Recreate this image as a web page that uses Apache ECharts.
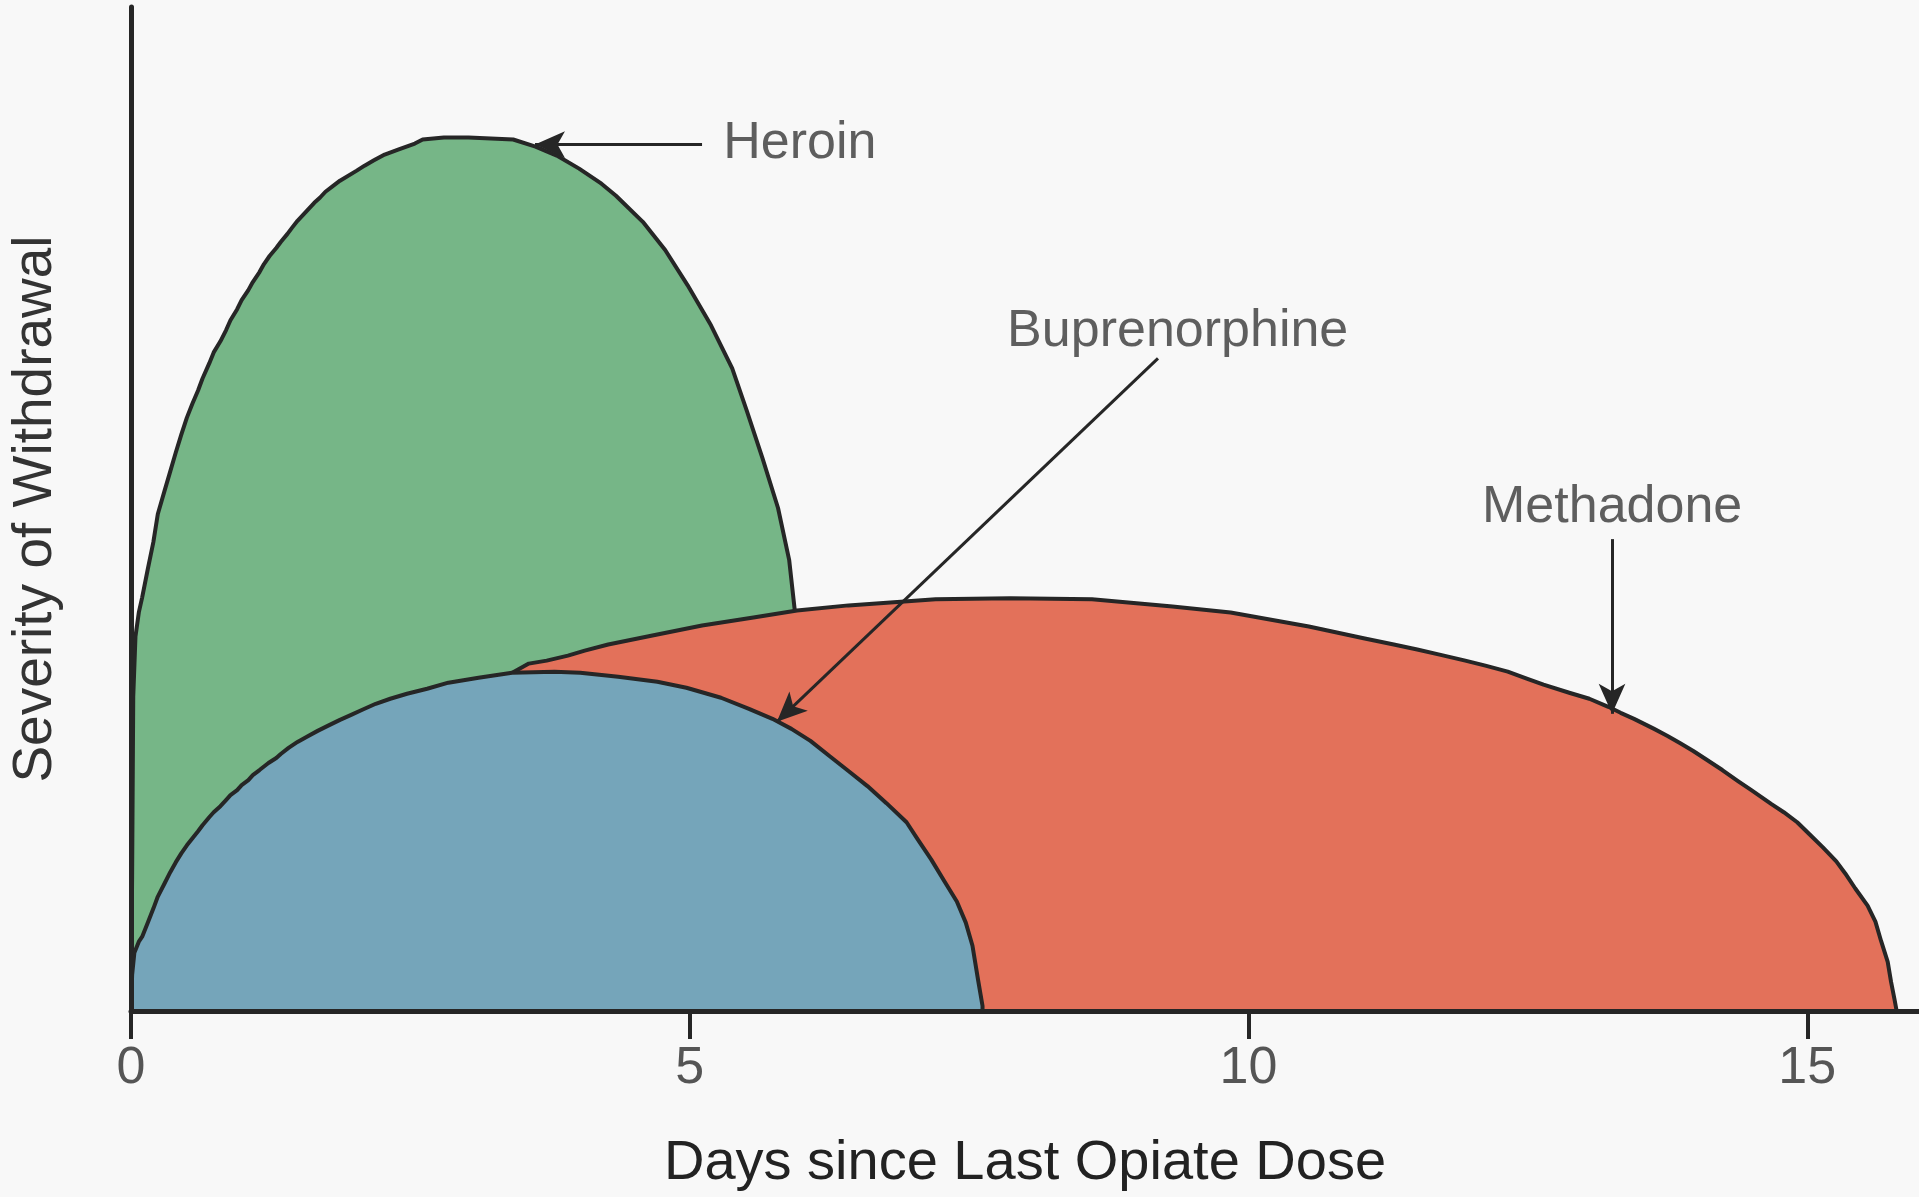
<!DOCTYPE html>
<html>
<head>
<meta charset="utf-8">
<script src="https://cdn.jsdelivr.net/npm/echarts@6/dist/echarts.min.js"></script>
<style>
html,body{margin:0;padding:0;background:#f8f8f8;}
#chart{width:1919px;height:1197px;}
</style>
</head>
<body>
<div id="chart"></div>
<script>
// ---- data (days since last dose, severity 0-100) ----
var xTicks = [0, 5, 10, 15];

var heroin = [
  [0,0],[0.01,13.5],[0.02,31.3],[0.04,37.3],[0.07,39.7],[0.10,41.2],[0.15,44.0],[0.20,46.7],
  [0.24,49.5],[0.30,51.8],[0.35,53.7],[0.40,55.6],[0.45,57.4],[0.50,59.1],[0.55,60.5],[0.60,61.8],
  [0.64,63.0],[0.70,64.5],[0.74,65.6],[0.80,66.7],[0.85,67.8],[0.89,68.8],[0.95,69.9],[0.99,70.8],
  [1.05,71.8],[1.09,72.6],[1.15,73.6],[1.19,74.4],[1.24,75.2],[1.30,76.0],[1.34,76.6],[1.40,77.4],
  [1.44,78.0],[1.49,78.7],[1.54,79.3],[1.59,79.9],[1.64,80.5],[1.69,81.0],[1.74,81.6],[1.80,82.1],
  [1.87,82.7],[2.02,83.7],[2.09,84.2],[2.17,84.7],[2.27,85.3],[2.39,85.8],[2.54,86.4],[2.61,86.8],
  [2.80,87.0],[3.02,87.0],[3.42,86.8],[3.62,86.1],[3.81,85.2],[4.01,83.9],[4.21,82.4],[4.34,81.2],
  [4.58,78.6],[4.78,75.8],[4.98,72.3],[5.19,68.3],[5.38,64.0],[5.51,59.8],[5.65,55.1],[5.79,50.1],
  [5.89,44.9],[5.94,39.9],[5.96,0]
];

var methadone = [
  [0,0],[0.17,7.5],[0.44,13.5],[0.89,19.5],[1.51,24.4],[2.23,28.4],[2.86,31.4],[3.30,33.0],
  [3.56,34.6],[3.72,34.9],[3.91,35.4],[4.06,35.9],[4.27,36.5],[4.71,37.5],[5.11,38.4],[5.57,39.2],
  [5.96,39.9],[6.42,40.4],[7.20,41.0],[7.87,41.1],[8.60,41.0],[9.32,40.3],[9.84,39.7],[10.19,39.0],
  [10.54,38.3],[10.79,37.7],[11.04,37.1],[11.30,36.5],[11.51,36.0],[11.71,35.5],[11.94,34.9],
  [12.12,34.4],[12.32,33.8],[12.49,33.1],[12.64,32.5],[12.87,31.7],[13.05,31.1],[13.22,30.3],
  [13.33,29.7],[13.45,29.1],[13.63,28.1],[13.75,27.4],[13.86,26.7],[13.98,25.9],[14.09,25.1],
  [14.24,24.0],[14.38,22.9],[14.50,22.0],[14.68,20.6],[14.79,19.8],[14.91,18.8],[15.02,17.6],
  [15.14,16.3],[15.26,14.9],[15.34,13.7],[15.43,12.2],[15.54,10.5],[15.61,8.9],[15.66,7.0],
  [15.72,4.9],[15.75,2.9],[15.78,1.2],[15.80,0]
];

var buprenorphine = [
  [0,0],[0.01,3.6],[0.03,5.8],[0.07,6.9],[0.10,7.4],[0.15,8.8],[0.20,10.2],[0.24,11.4],
  [0.30,12.7],[0.35,13.8],[0.40,14.8],[0.45,15.7],[0.50,16.5],[0.55,17.2],[0.60,17.9],[0.64,18.5],
  [0.70,19.3],[0.74,19.8],[0.80,20.4],[0.85,21.0],[0.89,21.5],[0.95,22.0],[0.99,22.5],[1.05,23.0],
  [1.09,23.5],[1.15,24.0],[1.23,24.7],[1.30,25.2],[1.34,25.6],[1.41,26.2],[1.49,26.8],[1.57,27.3],
  [1.67,27.9],[1.76,28.4],[1.87,29.0],[1.97,29.5],[2.07,30.0],[2.19,30.6],[2.32,31.1],[2.47,31.6],
  [2.65,32.1],[2.84,32.7],[3.11,33.2],[3.41,33.7],[3.79,33.8],[4.02,33.7],[4.36,33.3],[4.71,32.8],
  [4.97,32.2],[5.28,31.2],[5.53,30.1],[5.74,29.1],[5.91,28.1],[6.08,26.9],[6.25,25.4],[6.42,23.9],
  [6.59,22.4],[6.76,20.7],[6.94,18.8],[7.04,17.1],[7.16,15.1],[7.28,12.9],[7.39,10.9],[7.47,8.8],
  [7.53,6.5],[7.58,3.1],[7.62,0.5],[7.62,0]
];

// annotation labels and arrows
var labelNames = ['Heroin', 'Buprenorphine', 'Methadone'];
var labelPos = [[5.30, 86.4], [7.84, 67.7], [12.09, 50.1]];
var arrows = [
  [[5.11, 86.3], [3.615, 86.3]],
  [[9.19, 65.0], [5.78, 28.8]],
  [[13.253, 47.0], [13.253, 29.6]]
];

var FONT = "'Liberation Sans', Arial, sans-serif";
var INK = '#262626';

var chart = echarts.init(document.getElementById('chart'));

function areaSeries(name, data, color, z) {
  return {
    name: name, type: 'line', data: data, showSymbol: false, symbol: 'none',
    smooth: false, silent: true, z: z,
    lineStyle: { color: INK, width: 4, join: 'round' },
    areaStyle: { color: color, opacity: 1 }
  };
}

var series = [
  areaSeries('Heroin', heroin, '#76b687', 2),
  areaSeries('Methadone', methadone, '#e3715a', 3),
  areaSeries('Buprenorphine', buprenorphine, '#75a5ba', 4)
];

series[2].markLine = {
  silent: true,
  symbol: ['none', 'arrow'],
  symbolSize: [20, 30],
  label: { show: false },
  lineStyle: { color: INK, width: 3, type: 'solid' },
  data: arrows.map(function (a) { return [{ coord: a[0] }, { coord: a[1] }]; })
};
series[2].markPoint = {
  silent: true,
  symbol: 'circle',
  symbolSize: 0,
  label: {
    show: true, position: 'right', distance: 0,
    fontFamily: FONT, fontSize: 52, color: '#5e5e5e',
    formatter: function (p) { return p.name; }
  },
  data: labelNames.map(function (n, i) { return { name: n, coord: labelPos[i] }; })
};

chart.setOption({
  backgroundColor: '#f8f8f8',
  animation: false,
  grid: { left: 131, right: 0, top: 7, bottom: 181, containLabel: false },
  xAxis: {
    type: 'value', min: 0, max: 16, interval: 5, z: 10,
    name: 'Days since Last Opiate Dose', nameLocation: 'middle', nameGap: 125,
    nameTextStyle: { fontFamily: FONT, fontSize: 56, color: '#222' },
    axisLine: { show: true, lineStyle: { color: INK, width: 5 } },
    axisTick: { show: true, length: 28, lineStyle: { color: INK, width: 4 }, customValues: xTicks },
    axisLabel: { show: true, margin: 32, fontFamily: FONT, fontSize: 52, color: '#555', customValues: xTicks },
    splitLine: { show: false }
  },
  yAxis: {
    type: 'value', min: 0, max: 100, z: 10,
    name: 'Severity of Withdrawal', nameLocation: 'middle', nameGap: 68, nameRotate: 90,
    nameTextStyle: { fontFamily: FONT, fontSize: 55, color: '#333' },
    axisLine: { show: true, lineStyle: { color: INK, width: 5 } },
    axisTick: { show: false }, axisLabel: { show: false }, splitLine: { show: false }
  },
  series: series
});
</script>
</body>
</html>
